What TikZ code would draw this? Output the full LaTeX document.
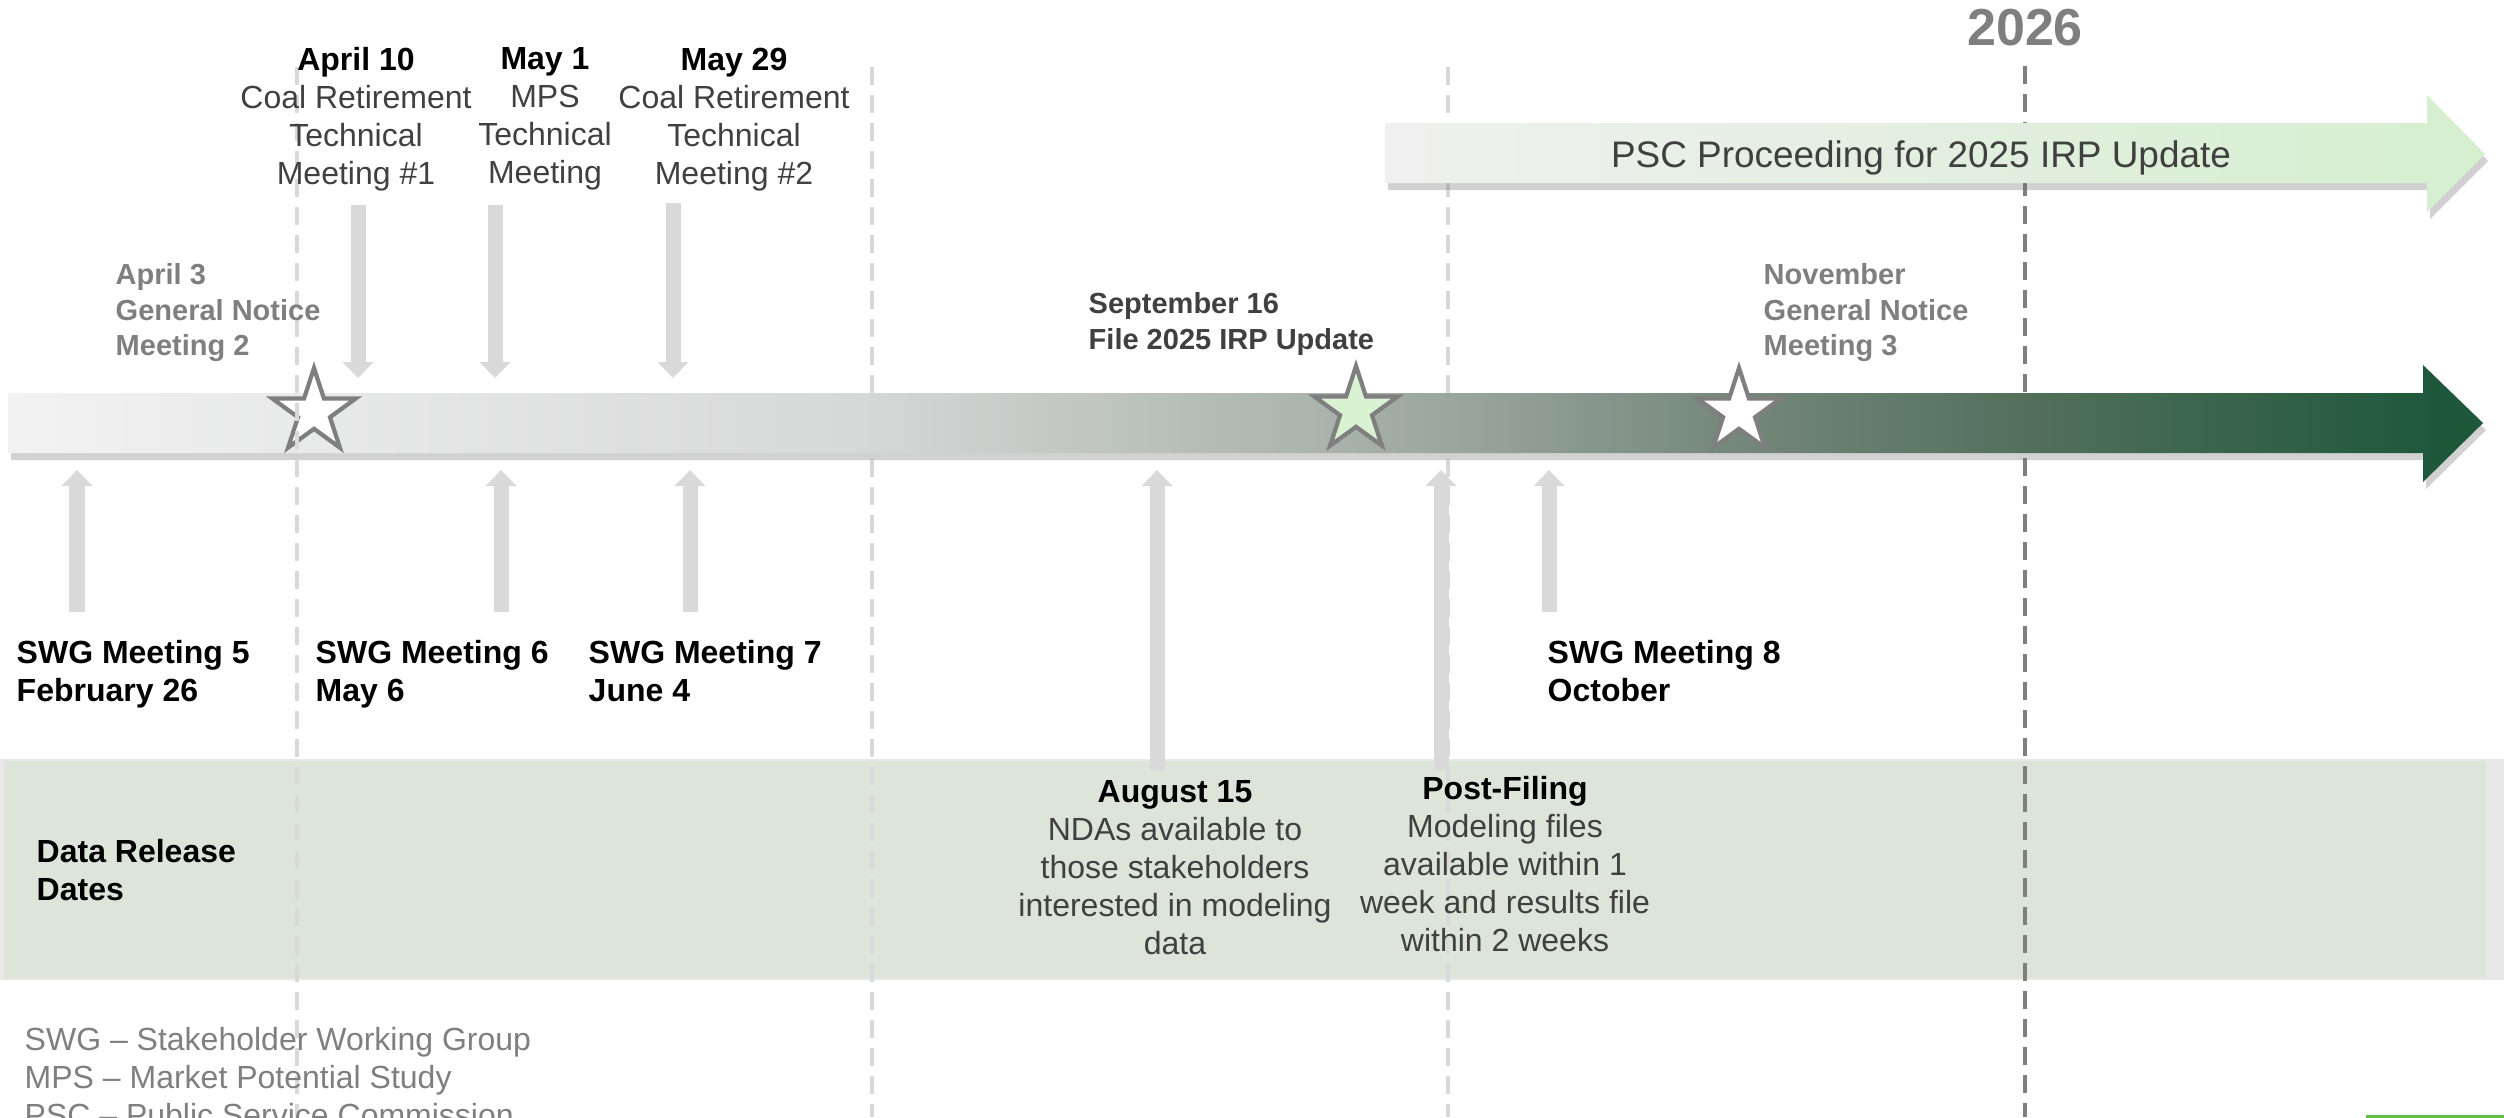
\documentclass[tikz,border=0pt]{standalone}
\usepackage{fontspec}
\setmainfont{Liberation Sans}
\usepackage{tikz}
\usetikzlibrary{arrows.meta, shapes.geometric, shadows}

\definecolor{txtgray}{HTML}{404040}
\definecolor{notegray}{HTML}{7F7F7F}
\definecolor{lightline}{HTML}{D9D9D9}
\definecolor{bandgreen}{HTML}{DDE5DA}
\definecolor{paleleaf}{HTML}{D5EFCF}
\definecolor{stargreen}{HTML}{D8F2D2}
\definecolor{edgegreen}{HTML}{63BE45}
\definecolor{tl0}{HTML}{F2F2F2}
\definecolor{tl1}{HTML}{D7D9D8}
\definecolor{tl2}{HTML}{A8B1AB}
\definecolor{tl3}{HTML}{74877A}
\definecolor{tl4}{HTML}{516F5B}
\definecolor{tl5}{HTML}{1E583B}
\pgfdeclarehorizontalshading{timeline}{100bp}{color(0bp)=(tl0); color(25bp)=(tl0); color(42bp)=(tl1); color(52bp)=(tl2); color(60bp)=(tl3); color(66bp)=(tl4); color(74bp)=(tl5); color(100bp)=(tl5)}

\begin{document}
\begin{tikzpicture}[x=0.01cm,y=-0.01cm,>=latex,
  evarrow/.style={draw=lightline,line width=0.15cm,-{Triangle[width=0.3cm,length=0.16cm]}},
  yearline/.style={dash pattern=on 0.18cm off 0.1cm,line width=0.04cm},
  softshadow/.style={drop shadow={shadow xshift=0.03cm,shadow yshift=-0.07cm,opacity=0.3,fill=black!60}},
  milestone/.style={star,star points=5,star point ratio=2.618,minimum size=0.88cm,inner sep=0pt,draw=notegray,line width=1.2pt},
  toplbl/.style={inner sep=0pt,anchor=north,align=center,text=txtgray,font=\fontsize{9.1}{10.8}\selectfont},
  swglbl/.style={inner sep=0pt,anchor=north west,align=left,font=\bfseries\fontsize{9.1}{10.8}\selectfont},
  notelbl/.style={inner sep=0pt,anchor=north west,align=left,text=notegray,font=\bfseries\fontsize{8.25}{10.1}\selectfont}]
\useasboundingbox (0,0) rectangle (2504,1117);
\clip (0,0) rectangle (2504,1117);

\fill[black!9] (0,759) rectangle (2504,980);
\fill[bandgreen] (4,761) rectangle (2486,978);

\node[inner sep=0pt,anchor=north,text=notegray,font=\bfseries\fontsize{14.8}{16}\selectfont] (y2026) at (2025,8) {2026};
\coordinate (bottom) at (0,1117);
\draw[yearline,lightline] (872,67) -- (872,1117);
\draw[yearline,lightline] (1448,67) -- (1448,1117);
\draw[yearline,notegray] (y2026.south |- 0,66) -- (y2026.south |- bottom);

\shade[left color=black!6,right color=paleleaf,softshadow] (1385,123) -- (2427,123) -- (2427,95) -- (2485,154) -- (2427,212) -- (2427,183) -- (1385,183) -- cycle;
\node[inner sep=0pt,anchor=base,text=txtgray,font=\fontsize{10.5}{12}\selectfont] (psc) at (1921,167) {PSC Proceeding for 2025 IRP Update};

\shade[shading=timeline,softshadow] (8,393) -- (2423,393) -- (2423,365) -- (2483,423) -- (2423,482) -- (2423,453) -- (8,453) -- cycle;

\node[milestone,fill=white] (st1) at (314,412) {};
\node[milestone,fill=stargreen] (st2) at (1356,410) {};
\node[milestone,fill=white] (st3) at (1739,412) {};
\draw[yearline,lightline] (297,67) -- (297,1117);

\coordinate (downtip) at (0,378);
\coordinate (uptip) at (0,470);
\coordinate (apr10a) at (358,205);
\coordinate (may1a) at (495,205);
\coordinate (may29a) at (673,203);
\coordinate (swg5a) at (77,612);
\coordinate (swg6a) at (501,612);
\coordinate (swg7a) at (690,612);
\coordinate (aug15a) at (1157,770);
\coordinate (postfa) at (1441,770);
\coordinate (swg8a) at (1549,612);
\draw[evarrow] (apr10a) -- (apr10a |- downtip);
\draw[evarrow] (may1a) -- (may1a |- downtip);
\draw[evarrow] (may29a) -- (may29a |- downtip);
\draw[evarrow] (swg5a) -- (swg5a |- uptip);
\draw[evarrow] (swg6a) -- (swg6a |- uptip);
\draw[evarrow] (swg7a) -- (swg7a |- uptip);
\draw[evarrow] (aug15a) -- (aug15a |- uptip);
\draw[evarrow] (postfa) -- (postfa |- uptip);
\draw[evarrow] (swg8a) -- (swg8a |- uptip);

\node[toplbl] (apr10) at (356,47) {\textbf{\color{black}April 10}\\Coal Retirement\\Technical\\Meeting \#1};
\node[toplbl] (may1) at (545,47) {\textbf{\color{black}May 1}\\MPS\\Technical\\Meeting};
\node[toplbl] (may29) at (734,47) {\textbf{\color{black}May 29}\\Coal Retirement\\Technical\\Meeting \#2};

\node[notelbl] (apr3) at (115,263) {April 3\\General Notice\\Meeting 2};
\node[notelbl,text=txtgray] (sep16) at (1088,292) {September 16\\File 2025 IRP Update};
\node[notelbl] (nov) at (1763,263) {November\\General Notice\\Meeting 3};

\node[swglbl] (swg5) at (16,640) {SWG Meeting 5\\February 26};
\node[swglbl] (swg6) at (315,640) {SWG Meeting 6\\May 6};
\node[swglbl] (swg7) at (588,640) {SWG Meeting 7\\June 4};
\node[swglbl] (swg8) at (1547,640) {SWG Meeting 8\\October};

\node[swglbl] (drd) at (36,839) {Data Release\\Dates};
\node[toplbl] (aug15) at (1175,780) {\textbf{\color{black}August 15}\\NDAs available to\\those stakeholders\\interested in modeling\\data};
\node[toplbl] (postf) at (1505,776) {\textbf{\color{black}Post-Filing}\\Modeling files\\available within 1\\week and results file\\within 2 weeks};

\node[inner sep=0pt,anchor=north west,align=left,text=notegray,font=\fontsize{9.1}{10.8}\selectfont] (abbr) at (24,1027) {SWG – Stakeholder Working Group\\MPS – Market Potential Study\\PSC – Public Service Commission};

\draw[edgegreen,line width=0.03cm] (2366,1116) -- (2504,1116);
\end{tikzpicture}
\end{document}
